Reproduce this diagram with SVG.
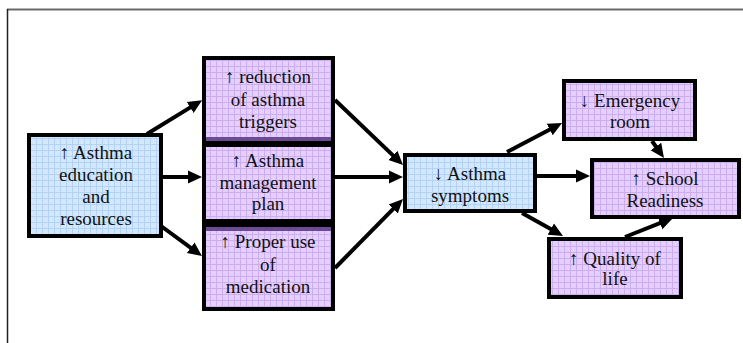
<svg xmlns="http://www.w3.org/2000/svg" width="743" height="343" viewBox="0 0 743 343">
<defs>
<pattern id="gb" width="6" height="6" patternUnits="userSpaceOnUse">
<rect width="6" height="6" fill="#d3e8ff"/>
<path d="M0,0.5 H6 M0.5,0 V6" stroke="#b2d2f6" stroke-width="1"/>
</pattern>
<pattern id="gp" width="6" height="6" patternUnits="userSpaceOnUse">
<rect width="6" height="6" fill="#e4cfff"/>
<path d="M0,0.5 H6 M0.5,0 V6" stroke="#cbadf0" stroke-width="1"/>
</pattern>
<marker id="ah" markerUnits="userSpaceOnUse" markerWidth="16" markerHeight="16" refX="4" refY="8" orient="auto">
<path d="M0,1.5 L14,8 L0,14.5 z" fill="#000"/>
</marker>
</defs>
<style>
.blue{fill:url(#gb);stroke:#000;stroke-width:4}
.purp{fill:url(#gp);stroke:#000;stroke-width:4}
.c line{stroke:#000;stroke-width:4;marker-end:url(#ah)}
</style>
<rect width="743" height="343" fill="#fff"/>
<g id="frame">
<line x1="7" y1="9.5" x2="743" y2="9.5" stroke="#6a6a6a" stroke-width="2"/>
<line x1="7.5" y1="9" x2="7.5" y2="343" stroke="#222" stroke-width="1.5"/>
</g>
<g font-family="Liberation Serif, Times New Roman, serif" font-size="19" fill="#111" text-anchor="middle">
<g id="n-education">
<rect class="blue" x="29" y="135" width="132" height="101"/>
<text x="96" y="159">↑ Asthma</text>
<text x="96" y="181">education</text>
<text x="96" y="203">and</text>
<text x="96" y="225">resources</text>
</g>
<g id="n-triggers">
<rect class="purp" x="204" y="58" width="129" height="85"/>
<rect x="206" y="137" width="125" height="4" fill="#6c4a94"/>
<text x="268" y="83">↑ reduction</text>
<text x="268" y="106">of asthma</text>
<text x="268" y="128">triggers</text>
</g>
<g id="n-plan">
<rect class="purp" x="204" y="145" width="129" height="76"/>
<text x="268" y="167">↑ Asthma</text>
<text x="268" y="189">management</text>
<text x="268" y="210">plan</text>
</g>
<g id="n-medication">
<rect class="purp" x="204" y="225" width="129" height="84"/>
<rect x="206" y="227" width="125" height="4" fill="#6c4a94"/>
<text x="268" y="248">↑ Proper use</text>
<text x="268" y="271">of</text>
<text x="268" y="293">medication</text>
</g>
<g id="n-symptoms">
<rect class="blue" x="405" y="155" width="130" height="56"/>
<text x="470" y="180">↓ Asthma</text>
<text x="470" y="202">symptoms</text>
</g>
<g id="n-emergency">
<rect class="purp" x="564" y="81" width="131" height="58"/>
<text x="630" y="107">↓ Emergency</text>
<text x="630" y="128">room</text>
</g>
<g id="n-school">
<rect class="purp" x="592" y="160" width="147" height="57"/>
<text x="665" y="185">↑ School</text>
<text x="665" y="207">Readiness</text>
</g>
<g id="n-quality">
<rect class="purp" x="549" y="239" width="132" height="58"/>
<text x="615" y="265">↑ Quality of</text>
<text x="615" y="285">life</text>
</g>
</g>
<g id="connectors" class="c">
<line x1="147" y1="134" x2="193.6" y2="105.4"/>
<line x1="163" y1="177" x2="192" y2="177"/>
<line x1="161" y1="226" x2="193.9" y2="250.1"/>
<line x1="335" y1="100" x2="395.8" y2="158.1"/>
<line x1="335" y1="177" x2="393" y2="177"/>
<line x1="335" y1="268" x2="396" y2="206.1"/>
<line x1="507" y1="152" x2="553.2" y2="127.7"/>
<line x1="537" y1="176" x2="580" y2="176"/>
<line x1="522" y1="213" x2="554.3" y2="231.1"/>
<line x1="652" y1="141" x2="658.2" y2="149.8"/>
<line x1="625" y1="237" x2="663.7" y2="221.7"/>
</g>
</svg>
